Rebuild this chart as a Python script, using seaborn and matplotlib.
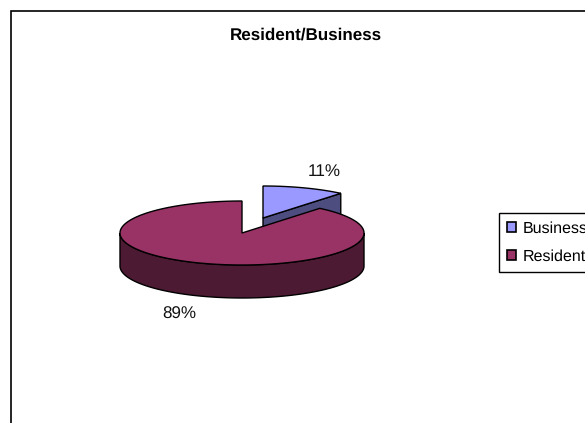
import numpy as np
import matplotlib
matplotlib.use("Agg")
import matplotlib.pyplot as plt
from matplotlib.patches import Patch
import seaborn as sns

categories = ["Business", "Resident"]
shares = [11, 89]
share_labels = ["11%", "89%"]

sns.set_theme(style="white")
plt.rcParams["font.family"] = ["Liberation Sans", "DejaVu Sans"]
plt.rcParams["text.hinting"] = "no_hinting"
plt.rcParams["text.hinting_factor"] = 1
top_colors = sns.color_palette(["#9999FF", "#993366"])
side_colors = sns.color_palette(["#4D4D80", "#4D1A33"])

fig = plt.figure(figsize=(5.85, 4.23), dpi=100, facecolor="white")
ax = fig.add_axes([0, 0, 1, 1])
ax.set_xlim(0, 585)
ax.set_ylim(423, 0)
ax.axis("off")

RX, RY, DEPTH = 122, 32, 33
CENTER = np.array([242.0, 233.0])
EXPLODE = np.array([21.0, -15.0])


def rim(center, a0, a1, n=160):
    t = np.radians(np.linspace(a0, a1, n))
    return np.column_stack([center[0] + RX * np.cos(t), center[1] - RY * np.sin(t)])


lw = 1.0
# angles run clockwise from 12 o'clock, in order of the series
frac = np.array(shares) / sum(shares) * 360
business_end = 90 - frac[0]
resident_end = business_end - frac[1]

# Business: exploded slice
bc = CENTER + EXPLODE
b_rim = rim(bc, 90, business_end)
tip = b_rim[-1]
face = np.array([bc, tip, tip + [0, DEPTH], bc + [0, DEPTH]])
ax.fill(face[:, 0], face[:, 1], fc=side_colors[0], ec="black", lw=lw, zorder=1)
poly = np.vstack([bc, b_rim, bc])
ax.fill(poly[:, 0], poly[:, 1], fc=top_colors[0], ec="black", lw=lw, zorder=2)

# Resident: wall then top
front = rim(CENTER, 180, 360)
wall = np.vstack([front, front[::-1] + [0, DEPTH]])
ax.fill(wall[:, 0], wall[:, 1], fc=side_colors[1], ec="black", lw=lw, zorder=3)
r_rim = rim(CENTER, business_end, resident_end, 400)
poly = np.vstack([CENTER, r_rim, CENTER])
ax.fill(poly[:, 0], poly[:, 1], fc=top_colors[1], ec="black", lw=lw, zorder=4)

# Data labels
ax.text(324, 172, share_labels[0], ha="center", va="center", fontsize=12.5, color="#111111")
ax.text(179, 314, share_labels[1], ha="center", va="center", fontsize=12.5, color="#111111")

# Title
ax.text(306, 35, "Resident/Business", ha="center", va="center", fontsize=12.4,
        fontweight="bold", color="black")

# Chart frame: runs off the right and bottom of the picture
ax.plot([11, 11, 585], [423, 11, 11], color="black", lw=1.2, solid_joinstyle="miter", zorder=6)

# Legend
handles = [Patch(fc=c, ec="black", lw=1.2) for c in top_colors]
leg = ax.legend(handles, categories, loc="upper left",
                bbox_to_anchor=(499 / 585, 1 - 213 / 423), fontsize=11.4,
                frameon=True, fancybox=False, edgecolor="black", framealpha=1,
                borderaxespad=0, borderpad=0.5, handlelength=0.55, handleheight=0.6,
                handletextpad=0.45, labelspacing=0.84)
leg.get_frame().set_linewidth(1.0)
for t in leg.get_texts():
    t.set_color("black")

fig.savefig("out.png", dpi=100, facecolor="white")
